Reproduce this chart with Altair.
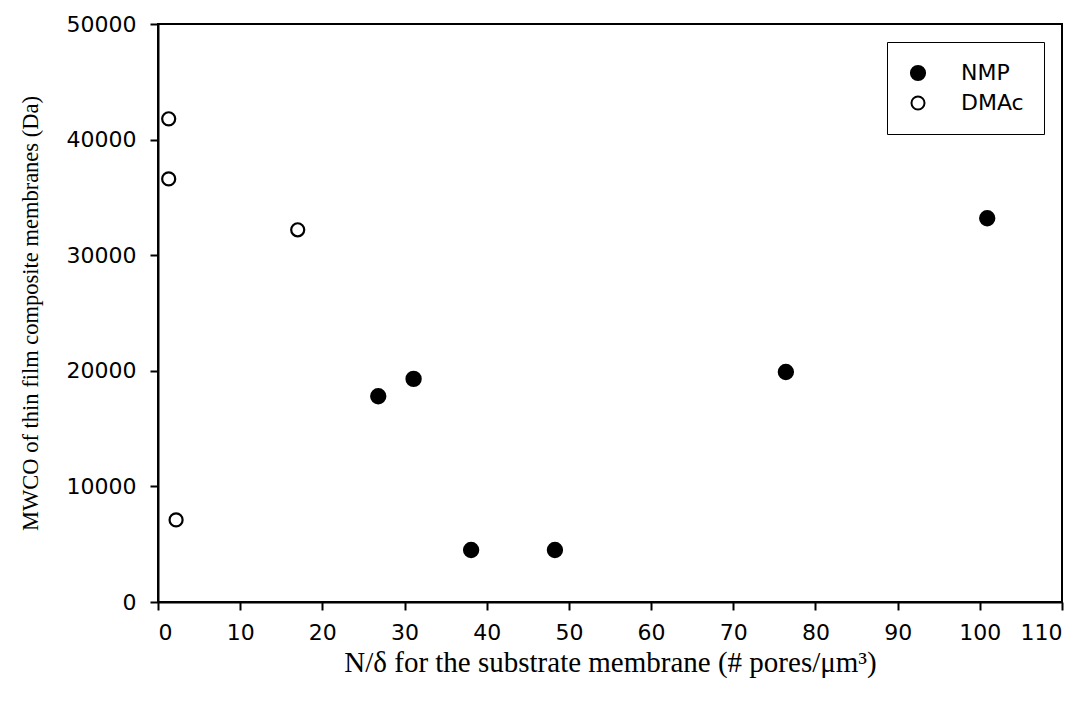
import altair as alt
import pandas as pd

# Substrate pore density (N/delta, pores per cubic micron) vs MWCO of the TFC membranes
nmp_x = [26.8, 31.1, 38.1, 48.3, 76.4, 100.9]
nmp_y = [17800, 19300, 4500, 4500, 19900, 33200]
dmac_x = [1.3, 1.3, 17.0, 2.2]
dmac_y = [41800, 36600, 32200, 7100]

series_names = ["NMP", "DMAc"]
x_ticks = list(range(0, 111, 10))
y_ticks = list(range(0, 50001, 10000))

df = pd.concat([
    pd.DataFrame({"x": nmp_x, "y": nmp_y, "solvent": "NMP"}),
    pd.DataFrame({"x": dmac_x, "y": dmac_y, "solvent": "DMAc"}),
], ignore_index=True)

label_font = "DejaVu Sans"
title_font = "Liberation Serif"

points = alt.Chart(df).mark_circle(
    stroke="black", strokeWidth=2.2, opacity=1
).encode(
    x=alt.X(
        "x:Q",
        scale=alt.Scale(domain=[0, 110], nice=False, zero=False),
        axis=alt.Axis(
            values=x_ticks,
            title="N/δ for the substrate membrane (# pores/μm³)",
            titleFont=title_font, titleFontSize=29, titleFontWeight="normal",
            titleColor="black", titlePadding=5,
            labelFont=label_font, labelFontSize=22, labelColor="black",
            labelPadding=12, tickSize=8, tickWidth=2, tickColor="black",
            domainColor="black", domainWidth=2, grid=False,
        ),
    ),
    y=alt.Y(
        "y:Q",
        scale=alt.Scale(domain=[0, 50000], nice=False),
        axis=alt.Axis(
            values=y_ticks,
            format="d",
            title="MWCO of thin film composite membranes (Da)",
            titleFont=title_font, titleFontSize=22.5, titleFontWeight="normal",
            titleColor="black", titlePadding=24,
            labelFont=label_font, labelFontSize=22, labelColor="black",
            labelPadding=14, tickSize=8, tickWidth=2, tickColor="black",
            domainColor="black", domainWidth=2, grid=False,
        ),
    ),
    fill=alt.Fill(
        "solvent:N",
        scale=alt.Scale(domain=series_names, range=["black", "white"]),
        legend=alt.Legend(
            title=None,
            orient="none", legendX=729, legendY=18,
            strokeColor="black", fillColor="white", padding=20,
            labelFont=label_font, labelFontSize=22, labelColor="black",
            labelOffset=32, rowPadding=7,
            symbolStrokeColor="black", symbolStrokeWidth=2,
            symbolType="circle",
        ),
    ),
    size=alt.Size(
        "solvent:N",
        scale=alt.Scale(domain=series_names, range=[200, 170]),
        legend=alt.Legend(
            title=None,
            orient="none", legendX=729, legendY=18,
        ),
    ),
)

chart = points.properties(
    width=904,
    height=578,
    autosize=alt.AutoSizeParams(type="none"),
    padding={"left": 158, "top": 24, "right": 25, "bottom": 104},
    background="white",
).configure_view(
    stroke="black", strokeWidth=2
)

chart.save("out.html", embed_options={"renderer": "svg", "actions": False})
